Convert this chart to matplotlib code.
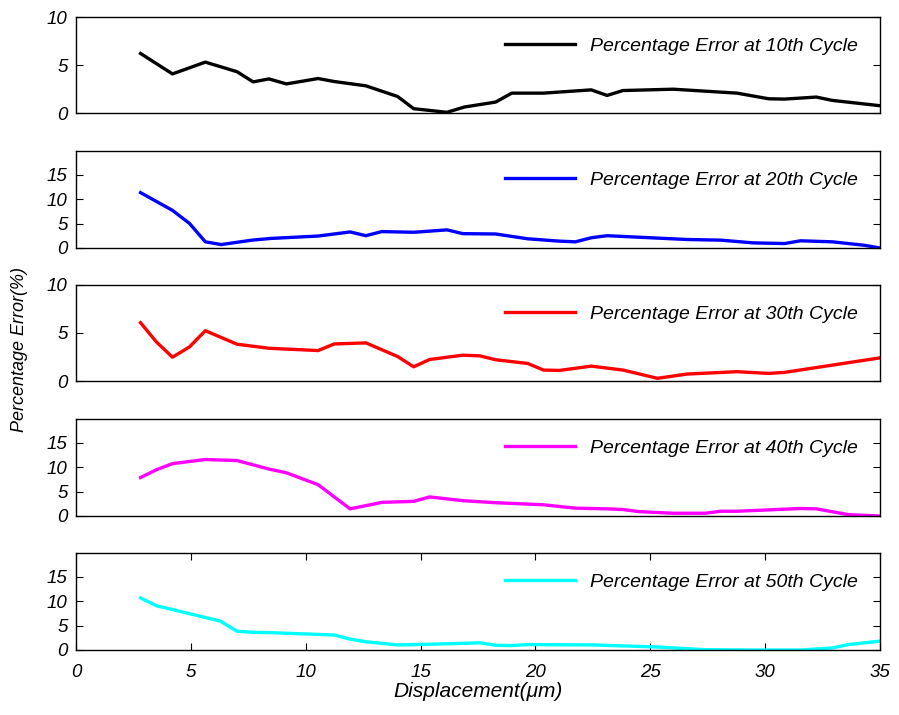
import matplotlib

matplotlib.use("Agg")

import matplotlib.pyplot as plt

# Percentage error vs displacement, one series per cycle count
x10 = [2.81, 4.2, 5.63, 7.01, 7.71, 8.4, 9.16, 10.54, 11.24, 12.62, 14.0, 14.7,
       16.15, 16.9, 18.27, 18.97, 20.35, 22.43, 23.12, 23.81, 26.0, 28.77,
       30.16, 30.85, 32.23, 32.93, 35.0]
y10 = [6.2, 4.07, 5.3, 4.3, 3.24, 3.55, 3.03, 3.59, 3.28, 2.83, 1.72, 0.45,
       0.07, 0.62, 1.14, 2.07, 2.07, 2.41, 1.83, 2.34, 2.48, 2.07,
       1.48, 1.45, 1.66, 1.31, 0.76]

x20 = [2.81, 4.2, 4.94, 5.63, 6.32, 7.66, 8.47, 10.54, 11.93, 12.62, 13.31,
       14.7, 16.15, 16.84, 18.27, 19.66, 21.04, 21.74, 22.43, 23.12, 26.58,
       28.08, 29.46, 30.85, 31.54, 32.93, 34.31, 35.0]
y20 = [11.3, 7.68, 5.02, 1.26, 0.7, 1.6, 1.95, 2.44, 3.28, 2.51, 3.35,
       3.21, 3.7, 2.93, 2.86, 1.88, 1.4, 1.26, 2.09, 2.51, 1.74,
       1.6, 1.05, 0.91, 1.47, 1.26, 0.56, 0.0]

x30 = [2.81, 3.5, 4.2, 4.94, 5.63, 7.01, 8.4, 10.54, 11.24, 12.62, 14.0, 14.7,
       15.39, 16.84, 17.58, 18.27, 19.66, 20.35, 21.04, 22.43, 23.81, 25.31,
       26.58, 28.77, 30.16, 30.85, 35.0]
y30 = [6.07, 4.07, 2.48, 3.55, 5.24, 3.83, 3.41, 3.17, 3.86, 3.97, 2.55, 1.48,
       2.24, 2.69, 2.62, 2.21, 1.83, 1.14, 1.1, 1.55, 1.14, 0.28,
       0.72, 0.97, 0.79, 0.9, 2.41]

x40 = [2.81, 3.5, 4.2, 5.63, 7.01, 8.4, 9.16, 10.54, 11.93, 13.31, 14.7, 15.39,
       16.84, 18.27, 20.35, 21.74, 23.12, 23.81, 24.5, 26.0, 27.39, 28.08,
       28.77, 31.54, 32.23, 33.62, 35.0]
y40 = [7.85, 9.44, 10.69, 11.53, 11.32, 9.58, 8.82, 6.39, 1.46, 2.78, 2.99, 3.89,
       3.13, 2.71, 2.29, 1.6, 1.46, 1.32, 0.9, 0.56, 0.56, 0.97,
       0.97, 1.53, 1.46, 0.28, 0.0]

x50 = [2.81, 3.5, 6.28, 7.01, 7.78, 8.47, 11.24, 11.93, 12.62, 14.0, 15.39,
       17.58, 18.27, 18.97, 19.66, 22.43, 25.2, 27.39, 29.46, 31.54, 32.93,
       33.62, 35.0]
y50 = [10.63, 9.03, 5.9, 3.82, 3.61, 3.54, 3.06, 2.22, 1.67, 1.04, 1.18,
       1.46, 0.97, 0.9, 1.11, 1.04, 0.63, 0.07, 0.0, 0.0, 0.42,
       1.11, 1.81]

series = [
    (x10, y10, "k", "Percentage Error at 10th Cycle", 10, [0, 5, 10]),
    (x20, y20, "#0000ff", "Percentage Error at 20th Cycle", 19.8, [0, 5, 10, 15]),
    (x30, y30, "#ff0000", "Percentage Error at 30th Cycle", 10, [0, 5, 10]),
    (x40, y40, "#ff00ff", "Percentage Error at 40th Cycle", 19.8, [0, 5, 10, 15]),
    (x50, y50, "#00ffff", "Percentage Error at 50th Cycle", 19.8, [0, 5, 10, 15]),
]
x_ticks = [0, 5, 10, 15, 20, 25, 30, 35]

plt.rcParams["font.family"] = ["Liberation Sans", "DejaVu Sans"]
plt.rcParams["font.style"] = "italic"

fig = plt.figure(figsize=(8.99, 7.15), dpi=100)

# panel edges in figure pixels (top, bottom)
edges = [(17, 113), (151, 248), (285, 381), (419, 516), (553, 650)]
left, right = 76 / 899, 880 / 899

for i, ((xs, ys, color, label, ymax, yticks), (top, bot)) in enumerate(zip(series, edges)):
    ax = fig.add_axes([left, 1 - bot / 715, right - left, (bot - top) / 715])
    ax.plot(xs, ys, color=color, linewidth=2.4, label=label)
    ax.set_xlim(0, 35)
    ax.set_ylim(0, ymax)
    ax.set_yticks(yticks)
    last = i == len(series) - 1
    if last:
        ax.set_xticks(x_ticks)
        ax.set_xlabel("Displacement(\u03bcm)", fontsize=15, labelpad=1)
    else:
        ax.set_xticks([])
    ax.tick_params(direction="in", length=5, width=0.8, labelsize=13.5,
                   right=True, top=last)
    ax.tick_params(axis="y", pad=6)
    ax.tick_params(axis="x", pad=10)
    for spine in ax.spines.values():
        spine.set_linewidth(1.0)
    ax.legend(loc="center right", frameon=False, fontsize=14,
              handlelength=3.6, handletextpad=0.77, borderpad=0,
              borderaxespad=0, bbox_to_anchor=(0.9726, 1 - 29 / (bot - top)))

fig.text(20 / 899, 1 - 349 / 715, "Percentage Error(%)", rotation=90,
         ha="center", va="center", fontsize=13)

fig.savefig("out.png", dpi=100)
